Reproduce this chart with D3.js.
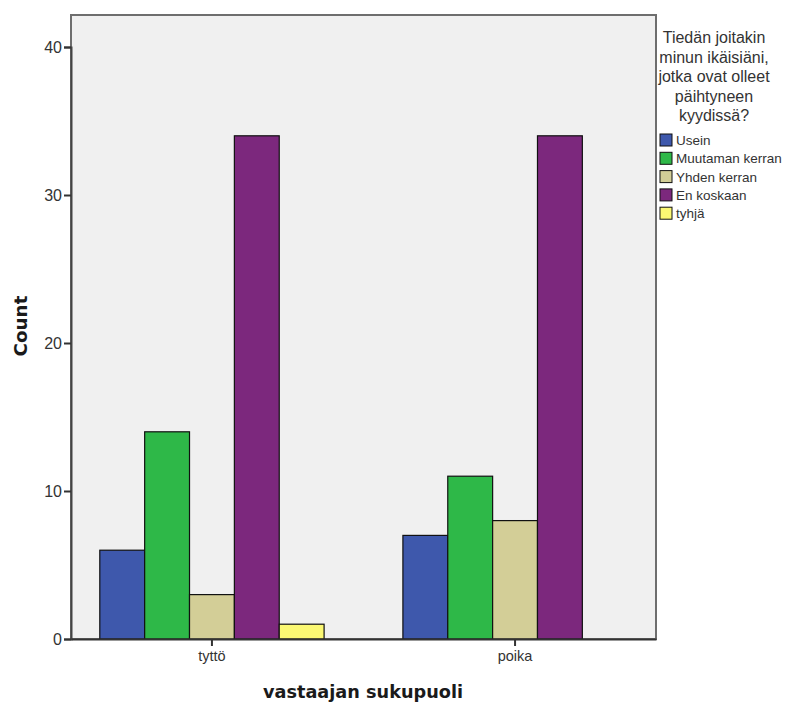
<!DOCTYPE html>
<html><head><meta charset="utf-8">
<script src="https://cdn.jsdelivr.net/npm/d3@7"></script>
<style>body{margin:0;background:#fff;} svg{display:block;font-family:"Liberation Sans",Arial,sans-serif;}</style>
</head><body><svg id="c" width="802" height="704"></svg>
<script>
const groups = ["tyttö", "poika"];
const seriesNames = ["Usein", "Muutaman kerran", "Yhden kerran", "En koskaan", "tyhjä"];
const seriesColors = ["#3e58ac", "#2eb848", "#d3ce97", "#7c287d", "#fbf873"];
const tyttoValues = [6, 14, 3, 34, 1];
const poikaValues = [7, 11, 8, 34, 0];
const yTicks = [0, 10, 20, 30, 40];
const legendTitle = ["Tiedän joitakin", "minun ikäisiäni,", "jotka ovat olleet", "päihtyneen", "kyydissä?"];
const valuesByGroup = {"tyttö": tyttoValues, "poika": poikaValues};

const svg = d3.select("#c");
const L = 71, R = 656, T = 15, B = 639;

svg.append("rect").attr("x", L).attr("y", T).attr("width", R - L).attr("height", B - T)
  .attr("fill", "#f0f0f0").attr("stroke", "#6e6e6e").attr("stroke-width", 2);

const y = d3.scaleLinear().domain([0, 40]).range([B, B - 592]);
const x0 = d3.scaleBand().domain(groups).range([L, R]).paddingInner(0.26).paddingOuter(0.095);
const x1 = d3.scaleBand().domain(seriesNames).range([0, x0.bandwidth()]);

const data = [];
groups.forEach(g => valuesByGroup[g].forEach((v, i) => data.push({g, s: seriesNames[i], v, c: seriesColors[i]})));

svg.append("g").selectAll("rect").data(data).join("rect")
  .attr("x", d => x0(d.g) + x1(d.s))
  .attr("y", d => y(d.v))
  .attr("width", x1.bandwidth())
  .attr("height", d => B - y(d.v))
  .attr("fill", d => d.c)
  .attr("stroke", "#111").attr("stroke-width", 1.2);

// y axis
const ya = svg.append("g").attr("transform", `translate(${L},0)`)
  .call(d3.axisLeft(y).tickValues(yTicks).tickSize(7).tickPadding(2).tickFormat(d3.format("d")));
ya.select(".domain").attr("stroke", "#444").attr("stroke-width", 2);
ya.selectAll(".tick line").attr("stroke", "#333").attr("stroke-width", 2);
ya.selectAll(".tick text").attr("fill", "#333").attr("font-size", 16).attr("font-family", "Liberation Sans, Arial, sans-serif");

// x axis
const xa = svg.append("g").attr("transform", `translate(0,${B})`)
  .call(d3.axisBottom(x0).tickSize(7).tickPadding(5).tickSizeOuter(0));
xa.select(".domain").attr("stroke", "#333").attr("stroke-width", 2);
xa.selectAll(".tick line").attr("stroke", "#333").attr("stroke-width", 2);
xa.selectAll(".tick text").attr("fill", "#333").attr("font-size", 14.5).attr("font-family", "Liberation Sans, Arial, sans-serif");

svg.append("text").attr("x", 363).attr("y", 698).attr("text-anchor", "middle")
  .attr("font-family", "DejaVu Sans, sans-serif")
  .attr("font-size", 17.7).attr("font-weight", "bold").attr("fill", "#1a1a1a").text("vastaajan sukupuoli");
svg.append("text").attr("transform", "translate(27,326) rotate(-90)").attr("text-anchor", "middle")
  .attr("font-family", "DejaVu Sans, sans-serif")
  .attr("font-size", 18.3).attr("font-weight", "bold").attr("fill", "#1a1a1a").text("Count");

// legend
const lg = svg.append("g");
lg.selectAll("text.t").data(legendTitle).join("text").attr("class", "t")
  .attr("x", 714).attr("y", (d, i) => 43 + i * 19.6).attr("text-anchor", "middle")
  .attr("font-size", 16).attr("fill", "#333").text(d => d);
const items = lg.selectAll("g.it").data(seriesNames).join("g").attr("class", "it")
  .attr("transform", (d, i) => `translate(660,${134 + i * 18.3})`);
items.append("rect").attr("width", 12).attr("height", 12)
  .attr("fill", (d, i) => seriesColors[i]).attr("stroke", "#111").attr("stroke-width", 1);
items.append("text").attr("x", 16).attr("y", 11).attr("font-size", 13.5).attr("fill", "#333").text(d => d);
</script></body></html>
